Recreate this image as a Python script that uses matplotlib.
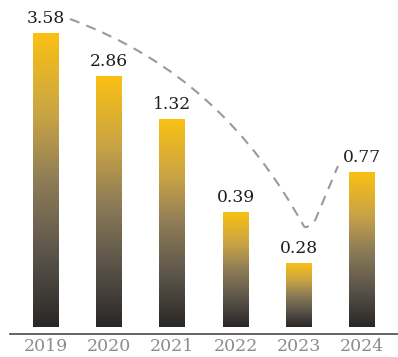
import numpy as np
import matplotlib.pyplot as plt
from matplotlib.colors import LinearSegmentedColormap
from matplotlib.path import Path
from matplotlib.patches import PathPatch

years = ['2019', '2020', '2021', '2022', '2023', '2024']
values = [3.58, 2.86, 1.32, 0.39, 0.28, 0.77]

# uneven value axis: value knots -> drawn bar height
knot_vals = [0, 0.28, 0.39, 0.77, 1.32, 2.86, 3.58]
knot_hts = [0, 65, 116, 156, 208.5, 251.5, 294.5]


def fwd(v):
    return np.interp(v, knot_vals, knot_hts)


def inv(h):
    return np.interp(h, knot_hts, knot_vals)


plt.rcParams['font.family'] = 'DejaVu Serif'

fig = plt.figure(figsize=(3.98, 3.57), dpi=100)
ax = fig.add_axes([10 / 398, 29.5 / 357, 388 / 398, 294.5 / 357])

x = np.arange(len(years))
bw = 0.41
ax.set_yscale('function', functions=(fwd, inv))
bars = ax.bar(x, values, width=bw, facecolor='none', edgecolor='none')
ax.set_xlim(-0.57, 5.57)
ax.set_ylim(0, max(values))

for s in ['left', 'right', 'top']:
    ax.spines[s].set_visible(False)
ax.spines['bottom'].set_position(('outward', 4.9))
ax.spines['bottom'].set_color('#4a4a4a')
ax.spines['bottom'].set_linewidth(1.2)
ax.set_yticks([])
ax.set_xticks(x, years)
ax.tick_params(axis='x', length=0, pad=3.0, labelsize=12.5, labelcolor='#8c8c8c')

for xi, v in zip(x, values):
    ax.annotate(f'{v:.2f}', (xi, v), xytext=(0, 7), textcoords='offset points',
                ha='center', va='baseline', fontsize=12.3, color='#1e1e1e',
                annotation_clip=False)

# gradient fill, yellow on top fading to near black at the base
cmap = LinearSegmentedColormap.from_list(
    'gold', [(0, '#2a2727'), (0.25, '#5b554a'), (0.5, '#8f7d57'),
             (0.72, '#c9a445'), (1, '#fbc112')])
grad = np.linspace(1, 0, 256).reshape(-1, 1)

ov = fig.add_axes(ax.get_position(), frameon=False)
for b, xi, v in zip(bars, x, values):
    im = ov.imshow(grad, cmap=cmap, extent=[xi - bw / 2, xi + bw / 2, 0, fwd(v)],
                   aspect='auto', origin='upper', interpolation='bilinear')
    im.set_clip_path(b)

# dashed trend curve from the 2019 label down past 2023 and up to 2024
h = fwd(values)
verts = [(0.38, h[0] + 14), (2.12, 267.5), (3.23, 197.5), (4.07, h[4] + 37.5),
         (4.11, h[4] + 31.5), (4.26, h[4] + 42.5), (4.62, h[5] + 5.5)]
codes = [Path.MOVETO, Path.CURVE4, Path.CURVE4, Path.CURVE4,
         Path.CURVE3, Path.CURVE3, Path.LINETO]
ov.add_patch(PathPatch(Path(verts, codes), fill=False, edgecolor='#9a9a9a',
                       lw=1.5, linestyle=(0, (4.8, 3.6)), clip_on=False,
                       capstyle='butt'))

ov.set_xlim(ax.get_xlim())
ov.set_ylim(fwd(0), fwd(max(values)))
ov.axis('off')

fig.savefig('out.png', dpi=100)
